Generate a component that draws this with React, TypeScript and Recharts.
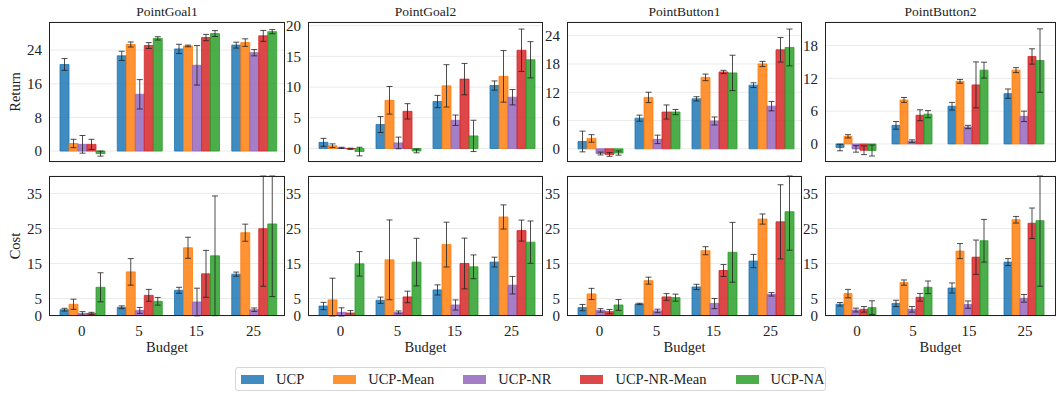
import { BarChart, Bar, XAxis, YAxis, CartesianGrid, ErrorBar } from 'recharts';

const budgets = ['0', '5', '15', '25'];
const methods = ['UCP', 'UCP-Mean', 'UCP-NR', 'UCP-NR-Mean', 'UCP-NA'];
const colors = ['#1f77b4', '#ff7f0e', '#9467bd', '#d62728', '#2ca02c'];
const envs = ['PointGoal1', 'PointGoal2', 'PointButton1', 'PointButton2'];

// rows = methods, columns = budgets
const pointGoal1Return = [
  [20.6, 22.65, 24.3, 25.2],
  [1.8, 25.35, 25.0, 25.8],
  [1.6, 13.5, 20.4, 23.4],
  [1.6, 25.1, 27.0, 27.4],
  [-0.6, 26.8, 27.95, 28.4],
];
const pointGoal1ReturnErr = [
  [1.4, 1.1, 1.1, 0.7],
  [1.0, 0.6, 0.2, 0.9],
  [2.1, 3.5, 4.7, 0.75],
  [1.2, 0.7, 0.75, 1.3],
  [0.6, 0.4, 0.7, 0.5],
];
const pointGoal2Return = [
  [1.0, 3.9, 7.65, 10.25],
  [0.45, 7.85, 10.2, 11.75],
  [0.1, 0.9, 4.6, 8.35],
  [-0.05, 6.05, 11.3, 16.0],
  [-0.5, -0.4, 2.05, 14.45],
];
const pointGoal2ReturnErr = [
  [0.65, 1.3, 1.0, 0.75],
  [0.3, 2.25, 3.45, 4.2],
  [0.1, 0.95, 0.85, 1.25],
  [0.1, 1.25, 2.55, 3.45],
  [0.7, 0.3, 2.55, 2.95],
];
const pointButton1Return = [
  [1.55, 6.5, 10.6, 13.5],
  [2.2, 10.9, 15.15, 18.0],
  [-1.0, 2.0, 5.9, 9.05],
  [-1.2, 7.8, 16.3, 21.0],
  [-0.9, 7.8, 16.1, 21.5],
];
const pointButton1ReturnErr = [
  [2.2, 0.65, 0.45, 0.5],
  [0.8, 1.1, 0.7, 0.55],
  [0.3, 0.9, 0.85, 1.0],
  [0.4, 1.5, 0.35, 2.6],
  [0.45, 0.55, 3.75, 3.9],
];
const pointButton2Return = [
  [-0.65, 3.4, 6.9, 9.2],
  [1.4, 8.05, 11.45, 13.5],
  [-0.9, 0.5, 3.1, 5.05],
  [-1.15, 5.25, 10.8, 16.0],
  [-1.2, 5.45, 13.5, 15.25],
];
const pointButton2ReturnErr = [
  [0.6, 0.7, 0.7, 0.85],
  [0.3, 0.45, 0.35, 0.45],
  [0.6, 0.25, 0.3, 0.95],
  [0.8, 1.0, 4.2, 1.4],
  [1.0, 0.65, 1.45, 5.8],
];

const pointGoal1Cost = [
  [1.8, 2.5, 7.35, 11.95],
  [3.35, 12.6, 19.5, 23.8],
  [0.75, 1.6, 4.0, 1.8],
  [0.75, 5.9, 12.05, 24.95],
  [8.2, 4.2, 17.2, 26.3],
];
const pointGoal1CostErr = [
  [0.4, 0.4, 0.85, 0.6],
  [1.45, 3.8, 3.0, 2.45],
  [0.5, 0.85, 3.95, 0.5],
  [0.3, 1.7, 6.7, 16.45],
  [4.15, 1.1, 17.1, 20.75],
];
const pointGoal2Cost = [
  [2.85, 4.5, 7.45, 15.4],
  [4.6, 16.05, 20.4, 28.3],
  [1.05, 1.05, 3.15, 8.8],
  [0.85, 5.45, 15.0, 24.4],
  [14.9, 15.4, 14.05, 21.1],
];
const pointGoal2CostErr = [
  [1.05, 0.9, 1.45, 1.4],
  [6.2, 11.4, 6.4, 3.45],
  [1.3, 0.4, 1.45, 2.5],
  [0.7, 1.65, 7.25, 3.0],
  [3.5, 6.8, 3.4, 6.05],
];
const pointButton1Cost = [
  [2.4, 3.45, 8.3, 15.7],
  [6.3, 10.1, 18.65, 27.7],
  [1.6, 1.45, 3.55, 6.2],
  [1.25, 5.45, 13.0, 26.9],
  [3.15, 5.25, 18.2, 29.8],
];
const pointButton1CostErr = [
  [0.9, 0.2, 0.75, 1.9],
  [1.6, 1.0, 1.15, 1.45],
  [0.5, 0.5, 1.45, 0.5],
  [0.6, 0.95, 1.7, 10.6],
  [1.55, 1.0, 8.55, 11.0],
];
const pointButton2Cost = [
  [3.35, 3.6, 8.0, 15.4],
  [6.4, 9.55, 18.55, 27.5],
  [1.7, 1.9, 3.25, 5.05],
  [1.9, 5.35, 16.8, 26.5],
  [2.4, 8.2, 21.5, 27.25],
];
const pointButton2CostErr = [
  [0.5, 0.9, 1.45, 1.0],
  [1.2, 0.75, 2.15, 0.95],
  [0.55, 0.8, 1.05, 1.1],
  [0.8, 1.1, 4.9, 4.35],
  [1.95, 1.8, 6.1, 18.75],
];

const returnTicks = [
  [0, 8, 16, 24],
  [0, 5, 10, 15, 20],
  [0, 6, 12, 18, 24],
  [0, 6, 12, 18],
];
const returnDomains: [number, number][] = [
  [-2.6, 30.7],
  [-2.2, 20.6],
  [-2.8, 26.9],
  [-3.3, 22.3],
];
const costTicks = [0, 5, 15, 25, 35];
const costDomain: [number, number] = [0, 40];

const FONT = "'Times New Roman', 'Liberation Serif', 'DejaVu Serif', 'Noto Serif', Times, serif";
const INK = '#222';
const plotLefts = [49, 308, 567, 825];
const plotWidths = [236, 235, 235, 231];
const PLOT_H = 140;
const TOP_ROW_Y = 22;
const BOTTOM_ROW_Y = 176;
const Y_AXIS_W = 40;

// error bars are clipped to the visible y range, like the axes frame does
function buildRows(means: number[][], errs: number[][], domain: [number, number]) {
  return budgets.map((b, j) => {
    const row: Record<string, any> = { budget: b };
    methods.forEach((_, i) => {
      const v = means[i][j];
      const e = errs[i][j];
      row[`m${i}`] = v;
      row[`e${i}`] = [Math.max(0, Math.min(e, v - domain[0])), Math.max(0, Math.min(e, domain[1] - v))];
    });
    return row;
  });
}

interface PanelProps {
  data: Record<string, any>[];
  domain: [number, number];
  ticks: number[];
  showX: boolean;
  col: number;
  plotTop: number;
}

function Panel({ data, domain, ticks, showX, col, plotTop }: PanelProps) {
  const plotW = plotWidths[col];
  const xH = showX ? 20 : 0;
  const width = Y_AXIS_W + plotW + 5;
  const height = 10 + PLOT_H + xH + 5;
  const tickStyle = { fill: INK, fontSize: 15, fontFamily: FONT };

  return (
    <>
      <div style={{ position: 'absolute', left: plotLefts[col] - Y_AXIS_W, top: plotTop - 10 }}>
        <BarChart
          width={width}
          height={height}
          data={data}
          margin={{ top: 10, right: 5, bottom: 5, left: 0 }}
          barCategoryGap={7}
          barGap={0}
          style={{ fontFamily: FONT }}
        >
          <CartesianGrid vertical={false} stroke="#ebebeb" />
          <XAxis
            dataKey="budget"
            hide={!showX}
            height={xH}
            axisLine={false}
            tickLine={false}
            tickSize={0}
            tickMargin={9}
            padding={{ left: 4, right: 3 }}
            tick={tickStyle}
          />
          <YAxis
            type="number"
            domain={domain}
            ticks={ticks}
            interval={0}
            allowDataOverflow
            width={Y_AXIS_W}
            axisLine={false}
            tickLine={false}
            tickSize={0}
            tickMargin={7}
            tick={tickStyle}
          />
          {methods.map((m, i) => (
            <Bar
              key={m}
              dataKey={`m${i}`}
              name={m}
              fill={colors[i]}
              fillOpacity={0.85}
              stroke={colors[i]}
              strokeWidth={0.8}
              isAnimationActive={false}
            >
              <ErrorBar dataKey={`e${i}`} width={3} stroke={INK} strokeOpacity={0.8} strokeWidth={1} direction="y" />
            </Bar>
          ))}
        </BarChart>
      </div>
      <div
        style={{
          position: 'absolute',
          left: plotLefts[col],
          top: plotTop,
          width: plotW,
          height: PLOT_H,
          border: `1px solid ${INK}`,
          boxSizing: 'border-box',
          pointerEvents: 'none',
        }}
      />
    </>
  );
}

const returnData = [
  buildRows(pointGoal1Return, pointGoal1ReturnErr, returnDomains[0]),
  buildRows(pointGoal2Return, pointGoal2ReturnErr, returnDomains[1]),
  buildRows(pointButton1Return, pointButton1ReturnErr, returnDomains[2]),
  buildRows(pointButton2Return, pointButton2ReturnErr, returnDomains[3]),
];
const costData = [
  buildRows(pointGoal1Cost, pointGoal1CostErr, costDomain),
  buildRows(pointGoal2Cost, pointGoal2CostErr, costDomain),
  buildRows(pointButton1Cost, pointButton1CostErr, costDomain),
  buildRows(pointButton2Cost, pointButton2CostErr, costDomain),
];

const centered = (x: number, y: number, size: number, rotate = false): React.CSSProperties => ({
  position: 'absolute',
  left: x,
  top: y,
  transform: `translate(-50%, -50%)${rotate ? ' rotate(-90deg)' : ''}`,
  fontFamily: FONT,
  fontSize: size,
  color: INK,
  whiteSpace: 'nowrap',
  lineHeight: 1,
});

export default function App() {
  return (
    <div
      style={{
        position: 'absolute',
        left: 0,
        top: 0,
        width: 1057,
        height: 393,
        background: '#fff',
        overflow: 'hidden',
        fontFamily: FONT,
      }}
    >
      {envs.map((env, c) => (
        <div key={env} style={centered(plotLefts[c] + plotWidths[c] / 2, 12, 13.5)}>
          {env}
        </div>
      ))}
      {envs.map((env, c) => (
        <Panel
          key={`r-${env}`}
          data={returnData[c]}
          domain={returnDomains[c]}
          ticks={returnTicks[c]}
          showX={false}
          col={c}
          plotTop={TOP_ROW_Y}
        />
      ))}
      {envs.map((env, c) => (
        <Panel
          key={`c-${env}`}
          data={costData[c]}
          domain={costDomain}
          ticks={costTicks}
          showX
          col={c}
          plotTop={BOTTOM_ROW_Y}
        />
      ))}
      {envs.map((env, c) => (
        <div key={`b-${env}`} style={centered(plotLefts[c] + plotWidths[c] / 2, 347, 14.5)}>
          Budget
        </div>
      ))}
      <div style={centered(15, TOP_ROW_Y + PLOT_H / 2, 14.5, true)}>Return</div>
      <div style={centered(15, BOTTOM_ROW_Y + PLOT_H / 2, 14.5, true)}>Cost</div>

      <div
        style={{
          position: 'absolute',
          left: 235,
          top: 367,
          width: 591,
          height: 24,
          border: '1px solid #d5d5d5',
          borderRadius: 3,
          boxSizing: 'border-box',
          display: 'flex',
          alignItems: 'center',
          paddingLeft: 5,
          fontFamily: FONT,
          fontSize: 14.5,
          color: INK,
        }}
      >
        {methods.map((m, i) => (
          <div key={m} style={{ display: 'flex', alignItems: 'center', marginRight: i < methods.length - 1 ? 29 : 0 }}>
            <div
              style={{
                width: 23,
                height: 9,
                background: colors[i],
                opacity: 0.85,
                border: `1px solid ${colors[i]}`,
                boxSizing: 'border-box',
                marginRight: 12,
              }}
            />
            <span>{m}</span>
          </div>
        ))}
      </div>
    </div>
  );
}
